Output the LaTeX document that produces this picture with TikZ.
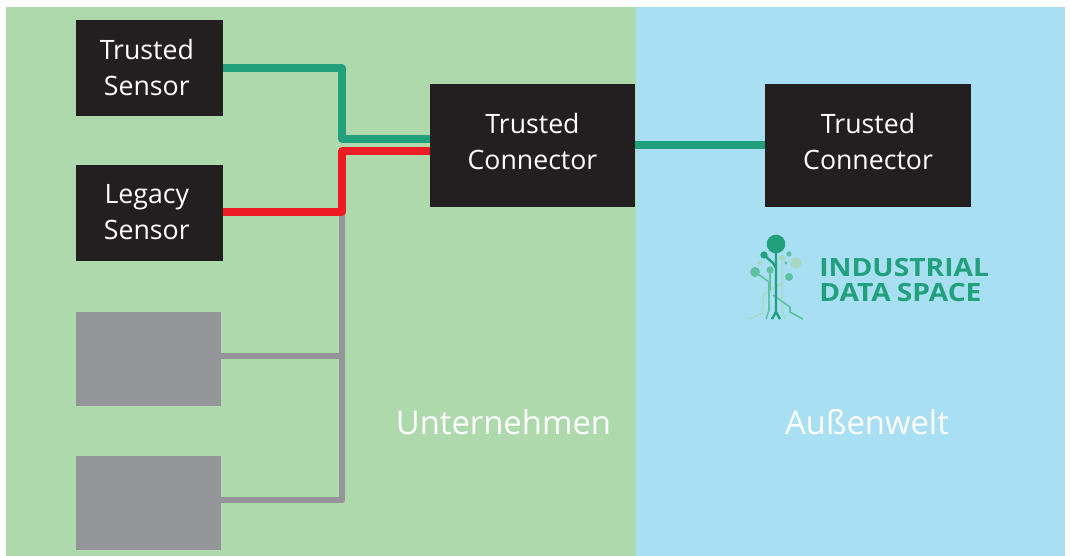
\documentclass[tikz,border=0pt]{standalone}
\usepackage{fontspec}
\setmainfont{Open Sans}
\newfontfamily\logofont[FakeStretch=1.12]{Open Sans}
\usetikzlibrary{positioning}
\pgfdeclarelayer{bg}
\pgfsetlayers{bg,main}
\definecolor{firmgreen}{HTML}{AED9AC}
\definecolor{worldblue}{HTML}{A8DFF2}
\definecolor{boxblack}{HTML}{231F20}
\definecolor{boxgrey}{HTML}{939598}
\definecolor{linegreen}{HTML}{22A07C}
\definecolor{linered}{HTML}{ED1C24}
\definecolor{lightleaf}{HTML}{5CC2A0}
\definecolor{paleleaf}{HTML}{A5D9BE}
\newcommand{\nudge}{\kern4pt}
\tikzset{
	x = 0.75pt,
	y = -0.75pt,
	every node/.style = {
		font = \fontsize{20pt}{27pt}\selectfont,
		inner sep = 0pt
	},
	sensor/.style = {
		fill = boxblack,
		text = white,
		minimum width = 110.25pt,
		minimum height = 72pt,
		align = center
	},
	spare/.style = {
		fill = boxgrey,
		minimum width = 108.75pt,
		minimum height = 70.5pt
	},
	connector/.style = {
		fill = boxblack,
		text = white,
		minimum width = 154.25pt,
		minimum height = 92.25pt,
		text depth = 6pt,
		align = center
	},
	zone/.style = {
		text = white,
		font = \fontsize{24.6pt}{30pt}\selectfont
	},
	wire/.style = {
		line width = 5.3pt,
		line join = round
	},
	logotext/.style = {
		font = \logofont\fontsize{18.9pt}{18.75pt}\selectfont\bfseries,
		text = linegreen,
		align = left,
		anchor = west
	}
}

\begin{document}
\begin{tikzpicture}
	\useasboundingbox (0,0) rectangle (1070,556);

	\node[sensor] (trusted) at (149.5,68) {Trusted\nudge\\Sensor\nudge};
	\node[sensor, below = 36pt of trusted] (legacy) {Legacy\nudge\\Sensor\nudge};
	\node[spare] (spareA) at (148.5,359) {};
	\node[spare, below = 36.75pt of spareA] (spareB) {};
	\node[connector] (local) at (532.5,145.5) {Trusted\\Connector};
	\node[connector, right = 97pt of local] (remote) {Trusted\\Connector};

	\coordinate (busTop) at (342,212);
	\coordinate (busBottom) at (342,500);
	\coordinate (greenIn) at (local.center |- 0,139);
	\coordinate (redIn) at (local.center |- 0,151);

	\begin{pgfonlayer}{bg}
		\fill[firmgreen] (6,7) rectangle (636,556);
		\fill[worldblue] (636,7) rectangle (1065,556);
		\draw[wire, boxgrey, line width = 4.8pt] (spareA.center |- 0,356) -- (342,356);
		\draw[wire, boxgrey, line width = 4.8pt] (spareB.center |- busBottom) -- (busBottom) -- (busTop);
		\draw[wire, linegreen] (trusted.center |- 0,68) -| (342,139) -- (greenIn);
		\draw[wire, linered] (legacy.center |- busTop) -- (busTop) |- (redIn);
		\draw[wire, linegreen, line width = 6pt] (local.center) -- (remote.center);
	\end{pgfonlayer}

	\node[zone] (firm) at (503.5,422) {Unternehmen};
	\node[zone] (world) at (867,422) {Außenwelt};

	% logo
	\draw[paleleaf, line width = 0.9pt] (749,319) -- (763,313) -- (763,295) -- (782,283);
	\draw[paleleaf, line width = 0.9pt] (782,258) -- (782,310) -- (785,319);
	\draw[lightleaf, line width = 1.2pt] (755,272) -- (769,282) -- (769,310) -- (766,319);
	\draw[lightleaf, line width = 1.2pt] (770,270) -- (770,290);
	\draw[lightleaf, line width = 1.2pt] (773,295) -- (790,307) -- (790,312) -- (803,319);
	\draw[linegreen, line width = 1.8pt] (764,255) -- (773,263) -- (776,268);
	\draw[linegreen, line width = 1.8pt] (776,244) -- (776,312) -- (772,319);
	\draw[linegreen, line width = 1.8pt] (776,312) -- (780,319);
	\fill[linegreen] (776,244) circle[radius = 7pt];
	\fill[linegreen] (764,255) circle[radius = 2.75pt];
	\fill[lightleaf] (755,272) circle[radius = 3.75pt];
	\fill[lightleaf] (770,270) circle[radius = 2.75pt];
	\fill[lightleaf] (789,254) circle[radius = 2pt];
	\fill[lightleaf] (786,263) circle[radius = 1.3pt];
	\fill[paleleaf] (796,263) circle[radius = 4.25pt];
	\fill[paleleaf] (782,258) circle[radius = 2.25pt];
	\fill[paleleaf] (760,263) circle[radius = 2pt];
	\fill[lightleaf] (789,277) circle[radius = 3pt];
	\node[logotext] (logo) at (819,279.5) {INDUSTRIAL\\DATA\kern4.5pt SPACE};
\end{tikzpicture}
\end{document}
